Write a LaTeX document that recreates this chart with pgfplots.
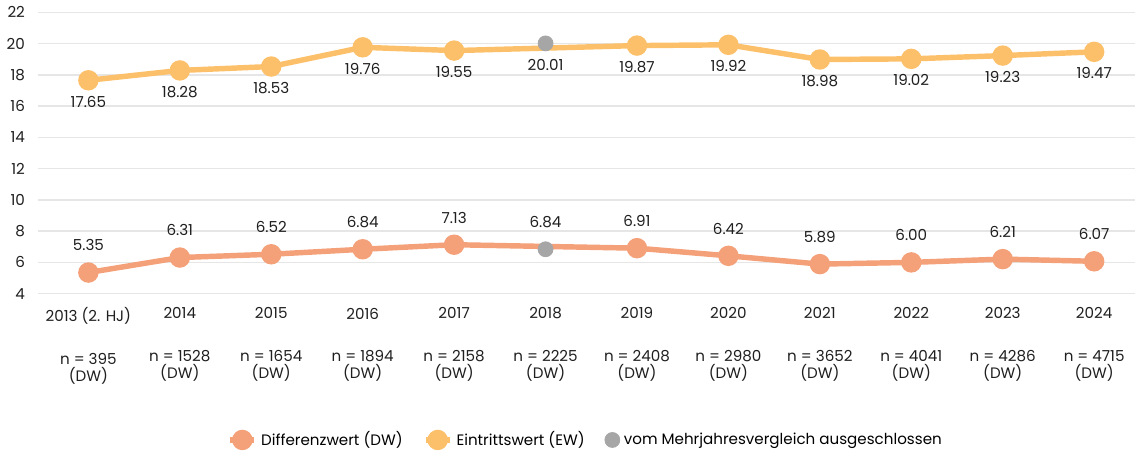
\documentclass[border=0pt]{standalone}
\usepackage{pgfplots}
\pgfplotsset{compat=1.18}
\usepackage{fontspec}
\setmainfont{Poppins}
\definecolor{dwcol}{HTML}{F4A078}
\definecolor{ewcol}{HTML}{FDC06A}
\definecolor{excol}{HTML}{A6A6A6}
\definecolor{gridcol}{HTML}{E6E6E6}
\newcommand{\lbl}{\fontsize{7.5}{8.6}\selectfont}
\pgfplotsset{shortline/.style={legend image code/.code={%
  \draw[mark repeat=2,mark phase=2,##1] plot coordinates {(0pt,0pt)(6pt,0pt)(12pt,0pt)};}}}
\begin{document}
\begin{tikzpicture}
\begin{axis}[
  scale only axis, width=544pt, height=139.5pt,
  xmin=-0.55, xmax=11.45, ymin=4, ymax=22,
  ytick={4,6,...,22},
  xtick={0,...,11},
  xticklabels={
    {2013 (2. HJ)\\[12.3pt]n = 395\\(DW)},
    {2014\\[12.3pt]n = 1528\\(DW)},
    {2015\\[12.3pt]n = 1654\\(DW)},
    {2016\\[12.3pt]n = 1894\\(DW)},
    {2017\\[12.3pt]n = 2158\\(DW)},
    {2018\\[12.3pt]n = 2225\\(DW)},
    {2019\\[12.3pt]n = 2408\\(DW)},
    {2020\\[12.3pt]n = 2980\\(DW)},
    {2021\\[12.3pt]n = 3652\\(DW)},
    {2022\\[12.3pt]n = 4041\\(DW)},
    {2023\\[12.3pt]n = 4286\\(DW)},
    {2024\\[12.3pt]n = 4715\\(DW)}},
  xticklabel style={align=center, anchor=north, yshift=-3.5pt},
  yticklabel style={xshift=-3pt},
  tick label style={font=\lbl, text=black!88},
  major tick length=0pt,
  axis line style={draw=none},
  ymajorgrids, grid style={gridcol, line width=0.7pt},
  /pgf/number format/assume math mode=true,
  nodes near coords,
  point meta=y,
  nodes near coords style={font=\lbl, text=black!88,
    /pgf/number format/fixed, /pgf/number format/fixed zerofill,
    /pgf/number format/precision=2},
  legend columns=3,
  legend style={draw=none, fill=none, font=\lbl, at={(0.5,-0.52)}, anchor=center,
    /tikz/every even column/.append style={column sep=8pt}},
  legend cell align=left,
  clip=false,
]
\addplot[dwcol, line width=2.7pt, mark=*, mark size=3.7pt,
  mark options={fill=dwcol, draw=none}, shortline,
  nodes near coords style={anchor=center, yshift=13.5pt}]
  coordinates {(0,5.35) (1,6.31) (2,6.52) (3,6.84) (4,7.13) (6,6.91)
    (7,6.42) (8,5.89) (9,6.00) (10,6.21) (11,6.07)};
\addlegendentry{Differenzwert (DW)}
\addplot[ewcol, line width=2.7pt, mark=*, mark size=3.7pt,
  mark options={fill=ewcol, draw=none}, shortline,
  nodes near coords style={anchor=center, yshift=-10.5pt}]
  coordinates {(0,17.65) (1,18.28) (2,18.53) (3,19.76) (4,19.55) (6,19.87)
    (7,19.92) (8,18.98) (9,19.02) (10,19.23) (11,19.47)};
\addlegendentry{Eintrittswert (EW)}
\addplot[only marks, mark=*, mark size=3.7pt, excol,
  mark options={fill=excol, draw=none},
  nodes near coords style={anchor=center, yshift=13.5pt}]
  coordinates {(5,6.84)};
\addlegendentry{vom Mehrjahresvergleich ausgeschlossen}
\addplot[only marks, mark=*, mark size=3.7pt, excol,
  mark options={fill=excol, draw=none}, forget plot,
  nodes near coords style={anchor=center, yshift=-10.5pt}]
  coordinates {(5,20.01)};
\end{axis}
\end{tikzpicture}
\end{document}
